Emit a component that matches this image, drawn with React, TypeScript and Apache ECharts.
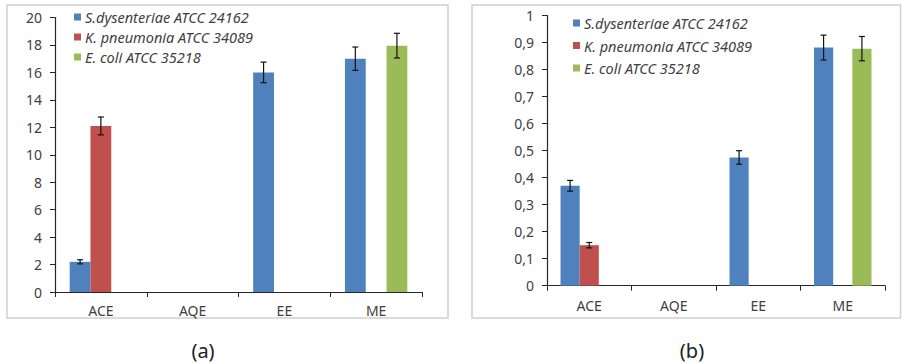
import React, { useEffect, useRef } from "react";
import * as echarts from "echarts";

const categories = ["ACE", "AQE", "EE", "ME"];
const seriesNames = ["S.dysenteriae ATCC 24162", "K. pneumonia ATCC 34089", "E. coli ATCC 35218"];
const colors = ["#4F81BD", "#C0504D", "#9BBB59"];

// Panel (a)
const aS = [2.2, null, 16.0, 17.0];
const aK = [12.1, null, null, null];
const aE = [null, null, null, 17.95];
const aSErr = [0.15, null, 0.75, 0.85];
const aKErr = [0.65, null, null, null];
const aEErr = [null, null, null, 0.9];
const aTicks = { min: 0, max: 20, interval: 2 };

// Panel (b)
const bS = [0.37, null, 0.475, 0.882];
const bK = [0.15, null, null, null];
const bE = [null, null, null, 0.878];
const bSErr = [0.02, null, 0.025, 0.046];
const bKErr = [0.01, null, null, null];
const bEErr = [null, null, null, 0.045];
const bTicks = { min: 0, max: 1, interval: 0.1 };

const captions = ["(a)", "(b)"];

const FONT = "'Noto Sans', sans-serif";
const GAP = 0.32;

function errData(vals: (number | null)[], errs: (number | null)[]) {
  const out: number[][] = [];
  vals.forEach((v, i) => {
    const e = errs[i];
    if (v != null && e != null) out.push([i, v - e, v + e]);
  });
  return out;
}

function errSeries(name: string, idx: number, vals: (number | null)[], errs: (number | null)[], offset: number) {
  return {
    type: "custom",
    name,
    xAxisIndex: idx,
    yAxisIndex: idx,
    z: 10,
    silent: true,
    data: errData(vals, errs),
    renderItem: (params: any, api: any) => {
      const x = api.value(0);
      const lo = api.coord([x, api.value(1)]);
      const hi = api.coord([x, api.value(2)]);
      const catW = api.size([1, 0])[0];
      const bw = (catW * (1 - GAP)) / 3;
      const cx = lo[0] + offset * bw;
      const cap = 3;
      const style = { stroke: "#111", lineWidth: 1.2 };
      return {
        type: "group",
        children: [
          { type: "line", shape: { x1: cx, y1: lo[1], x2: cx, y2: hi[1] }, style },
          { type: "line", shape: { x1: cx - cap, y1: hi[1], x2: cx + cap, y2: hi[1] }, style },
          { type: "line", shape: { x1: cx - cap, y1: lo[1], x2: cx + cap, y2: lo[1] }, style },
        ],
      };
    },
  };
}

function barSeries(name: string, idx: number, vals: (number | null)[], color: string) {
  return {
    type: "bar",
    name,
    xAxisIndex: idx,
    yAxisIndex: idx,
    barGap: "0%",
    barCategoryGap: GAP * 100 + "%",
    itemStyle: { color },
    data: vals.map((v) => (v == null ? "-" : v)),
  };
}

export default function App() {
  const ref = useRef<HTMLDivElement>(null);
  useEffect(() => {
    if (!ref.current) return;
    const chart = echarts.init(ref.current, undefined, { renderer: "svg" });
    const axisColor = "#262626";
    const labelColor = "#404040";
    const xAxis = (gi: number, margin: number) => ({
      type: "category",
      gridIndex: gi,
      data: categories,
      axisLine: { lineStyle: { color: axisColor, width: 1.2 } },
      axisTick: { show: true, length: 5, alignWithLabel: false, lineStyle: { color: axisColor } },
      axisLabel: { color: labelColor, fontSize: 14, fontFamily: FONT, margin },
    });
    const yAxis = (gi: number, t: any, fmt?: (v: number) => string) => ({
      type: "value",
      gridIndex: gi,
      min: t.min,
      max: t.max,
      interval: t.interval,
      splitLine: { show: false },
      axisLine: { show: true, lineStyle: { color: axisColor, width: 1.2 } },
      axisTick: { show: true, length: 5, lineStyle: { color: axisColor } },
      axisLabel: {
        color: labelColor,
        fontSize: 14,
        fontFamily: FONT,
        margin: 13,
        formatter: fmt,
      },
    });
    const legend = (left: number, top: number, gap: number) => ({
      orient: "vertical",
      left,
      top,
      itemWidth: 7,
      itemHeight: 7,
      itemGap: gap,
      icon: "rect",
      data: seriesNames,
      selectedMode: false,
      textStyle: { fontFamily: FONT, fontStyle: "italic", fontSize: 14.5, color: "#404040", lineHeight: 16, padding: [0, 0, 0, -1] },
    });
    chart.setOption({
      animation: false,
      backgroundColor: "#fff",
      grid: [
        { left: 55, top: 17.5, width: 367, height: 274.5 },
        { left: 547, top: 15.7, width: 338, height: 270 },
      ],
      xAxis: [xAxis(0, 11), xAxis(1, 13)],
      yAxis: [
        yAxis(0, aTicks),
        yAxis(1, bTicks, (v: number) => (Math.round(v * 10) / 10).toString().replace(".", ",")),
      ],
      legend: [legend(69, 4, 4), legend(568, 10, 6.5)],
      series: [
        barSeries(seriesNames[0], 0, aS, colors[0]),
        barSeries(seriesNames[1], 0, aK, colors[1]),
        barSeries(seriesNames[2], 0, aE, colors[2]),
        barSeries(seriesNames[0], 1, bS, colors[0]),
        barSeries(seriesNames[1], 1, bK, colors[1]),
        barSeries(seriesNames[2], 1, bE, colors[2]),
        errSeries("errAS", 0, aS, aSErr, -1),
        errSeries("errAK", 0, aK, aKErr, 0),
        errSeries("errAE", 0, aE, aEErr, 1),
        errSeries("errBS", 1, bS, bSErr, -1),
        errSeries("errBK", 1, bK, bKErr, 0),
        errSeries("errBE", 1, bE, bEErr, 1),
      ],
      graphic: [
        { type: "rect", shape: { x: 7, y: 5, width: 441, height: 313 }, style: { fill: "none", stroke: "#d0d0d0", lineWidth: 1.5 }, silent: true },
        { type: "rect", shape: { x: 472, y: 5, width: 428.5, height: 313 }, style: { fill: "none", stroke: "#d0d0d0", lineWidth: 1.5 }, silent: true },
        { type: "text", x: 203, y: 350, style: { text: captions[0], fontSize: 20, fontFamily: FONT, fill: "#222", align: "center", verticalAlign: "middle" } },
        { type: "text", x: 692, y: 350, style: { text: captions[1], fontSize: 20, fontFamily: FONT, fill: "#222", align: "center", verticalAlign: "middle" } },
      ],
    });
    return () => chart.dispose();
  }, []);
  return <div ref={ref} style={{ position: "absolute", left: 0, top: 0, width: 902, height: 363 }} />;
}
